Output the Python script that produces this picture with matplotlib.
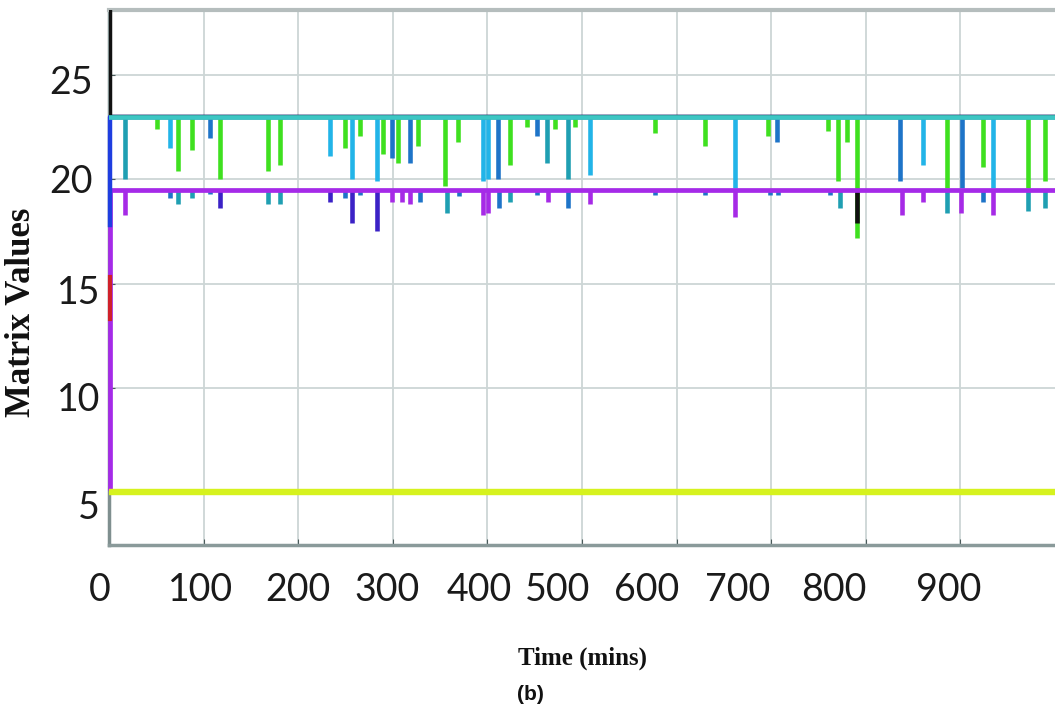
import matplotlib
matplotlib.use("Agg")
import matplotlib.pyplot as plt
import matplotlib.transforms as mtransforms

# base levels of the traces (time in mins, matrix value)
t_base = [1.5, 1.5, 1000]
black_trace = [28.5, 23.0, 23.0]
blue_trace = [17.8, 23.0, 23.0]
teal_trace = [23.0, 23.0, 23.0]
purple_trace = [5.2, 19.5, 19.5]
yellow_trace = [5.0, 5.0, 5.0]
red_t = [1.5, 1.5]
red_trace = [13.3, 15.3]

# colour codes used for the dips
COLORS = {
    "G": "#3fe01f", "C": "#22b4e8", "B": "#1e74c8", "T": "#1f9fb2",
    "P": "#a62ae6", "I": "#3b22c6", "K": "#101010",
}

# dips from the upper level (23)
upper_t = [16.9, 50.7, 64.5, 72.9, 87.7, 106.8, 117.3, 168.0, 180.8, 233.6,
           249.5, 256.9, 265.3, 283.3, 289.6, 299.2, 305.5, 318.2, 326.6, 355.2,
           368.9, 395.3, 400.6, 411.2, 423.9, 441.9, 452.4, 463.0, 471.5, 485.2,
           492.6, 508.5, 577.2, 630.0, 661.7, 696.6, 706.1, 760.0, 770.6, 780.1,
           790.7, 836.2, 860.5, 885.8, 901.7, 923.9, 934.5, 971.5, 989.4]
upper_min = [20.0, 22.4, 21.5, 20.4, 21.4, 22.0, 20.0, 20.4, 20.7, 21.1,
             21.5, 20.0, 22.1, 19.9, 21.2, 21.0, 20.8, 20.8, 21.6, 19.7,
             21.8, 19.9, 20.0, 20.0, 20.7, 22.5, 22.1, 20.8, 22.4, 20.0,
             22.5, 20.2, 22.2, 21.6, 19.6, 22.1, 21.8, 22.3, 19.9, 21.8,
             17.2, 19.9, 20.7, 19.6, 19.6, 20.6, 19.6, 19.6, 19.9]
upper_col = ["T", "G", "C", "G", "G", "B", "G", "G", "G", "C",
             "G", "C", "G", "C", "G", "B", "G", "B", "G", "G",
             "G", "C", "C", "B", "G", "G", "B", "T", "G", "T",
             "G", "C", "G", "G", "C", "G", "B", "G", "G", "G",
             "G", "B", "C", "G", "B", "G", "C", "G", "G"]

# dips from the lower level (19.5)
lower_t = [16.9, 64.5, 72.9, 87.7, 106.8, 117.3, 168.0, 180.8, 233.6, 249.5,
           256.9, 265.3, 283.3, 299.2, 309.8, 318.2, 328.7, 357.3, 370.0, 395.3,
           400.6, 412.3, 423.9, 452.4, 464.0, 485.2, 508.5, 577.2, 630.0, 661.7,
           698.6, 707.0, 762.0, 772.6, 790.7, 838.0, 860.5, 885.8, 900.6, 923.9,
           934.5, 971.5, 989.4]
lower_min = [18.3, 19.1, 18.8, 19.1, 19.3, 18.6, 18.8, 18.8, 18.9, 19.1,
             17.9, 19.25, 17.5, 18.9, 18.9, 18.8, 18.9, 18.4, 19.2, 18.3,
             18.4, 18.6, 18.9, 19.25, 18.9, 18.6, 18.8, 19.25, 19.25, 18.2,
             19.25, 19.25, 19.25, 18.6, 17.9, 18.3, 18.9, 18.4, 18.4, 18.9,
             18.3, 18.5, 18.6]
lower_col = ["P", "B", "T", "T", "B", "I", "T", "T", "I", "B",
             "I", "B", "I", "P", "P", "P", "B", "T", "B", "P",
             "P", "B", "T", "B", "P", "B", "P", "B", "B", "P",
             "B", "B", "B", "T", "K", "P", "P", "T", "P", "B",
             "P", "T", "T"]

xtick_labels = ["0", "100", "200", "300", "400", "500", "600", "700", "800", "900"]
xtick_at = [-9.5, 97.3, 199.8, 294.0, 391.0, 474.0, 568.0, 665.0, 766.0, 888.0]
ytick_labels = ["25", "20", "15", "10", "5"]
ytick_at = [24.62, 19.87, 14.54, 9.41, 4.23]
ytick_right = [-0.017, -0.017, -0.0095, -0.0095, -0.0095]

fig = plt.figure(figsize=(10.55, 7.13), dpi=100)
ax = fig.add_axes([109 / 1055, 1 - 545 / 713, 946 / 1055, 535 / 713])

ax.vlines(upper_t, upper_min, 23.0, colors=[COLORS[c] for c in upper_col], lw=3.3)
ax.vlines(lower_t, lower_min, 19.5, colors=[COLORS[c] for c in lower_col], lw=3.3)

ax.plot(t_base, purple_trace, color="#a52ae8", lw=3.4, clip_on=False, zorder=3)
ax.plot(red_t, red_trace, color="#d0202a", lw=3.0, clip_on=False, zorder=3)
ax.plot(t_base, blue_trace, color="#1e3ee0", lw=3.2, clip_on=False, zorder=3)
ax.plot(t_base, black_trace, color="#111111", lw=3.2, zorder=3)
ax.plot(t_base, teal_trace, color="#3cc6c4", lw=3.4, zorder=3)
ax.plot(t_base, yellow_trace, color="#d6f21e", lw=4.6, zorder=3)

ax.set_xlim(0, 1000)
ax.set_ylim(2.458, 28.12)
ax.set_xticks(range(100, 1000, 100))
ax.set_yticks([5, 10, 15, 20, 25])
ax.grid(True, color="#cdd6d6", lw=1.3)
ax.set_axisbelow(True)
ax.tick_params(axis="both", direction="in", length=4, color="#4a5a5a",
               labelbottom=False, labelleft=False)

ax.spines["left"].set_color("#7f8f8f")
ax.spines["left"].set_linewidth(2.5)
ax.spines["bottom"].set_color("#8a9a9a")
ax.spines["bottom"].set_linewidth(2.5)
ax.spines["top"].set_color("#b5bdbd")
ax.spines["top"].set_linewidth(3)
ax.spines["right"].set_visible(False)

tick_font = ["Lato"]
xtr = mtransforms.blended_transform_factory(ax.transData, ax.transAxes)
for lab, x in zip(xtick_labels, xtick_at):
    ax.text(x, -0.084, lab, transform=xtr, ha="center", va="center",
            fontsize=27, family=tick_font, color="#1a1a1a", clip_on=False)
ytr = mtransforms.blended_transform_factory(ax.transAxes, ax.transData)
for lab, y, xr in zip(ytick_labels, ytick_at, ytick_right):
    ax.text(xr, y, lab, transform=ytr, ha="right", va="center",
            fontsize=27, family=tick_font, color="#1a1a1a", clip_on=False)

fig.text(22 / 1055, 1 - 312 / 713, "Matrix Values", rotation=90, ha="center", va="center",
         fontsize=25, fontweight="bold", family="Liberation Serif", color="#111111")
fig.text(582 / 1055, 1 - 658 / 713, "Time (mins)", ha="center", va="center",
         fontsize=18, fontweight="bold", family="Liberation Serif", color="#111111")
fig.text(530 / 1055, 1 - 694 / 713, "(b)", ha="center", va="center",
         fontsize=15, fontweight="bold", family="Liberation Sans", color="#111111")

fig.savefig("out.png", dpi=100)
